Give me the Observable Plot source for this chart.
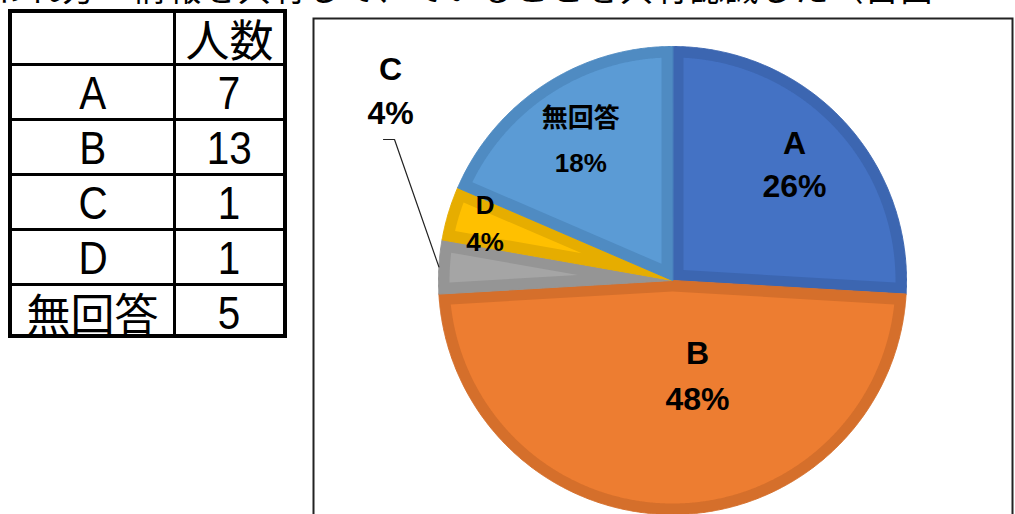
<!DOCTYPE html>
<html>
<head>
<meta charset="utf-8">
<script src="https://cdn.jsdelivr.net/npm/d3@7"></script>
<script src="https://cdn.jsdelivr.net/npm/@observablehq/plot@0.6"></script>
<style>
html, body { margin: 0; padding: 0; background: #fff; width: 1015px; height: 514px; overflow: hidden; }
#page { position: relative; width: 1015px; height: 514px; overflow: hidden; background: #fff; }
#topline { position: absolute; left: -6px; top: -33px; font-family: "Noto Sans CJK JP", sans-serif; font-size: 34px; line-height: 1.2; white-space: nowrap; color: #000; letter-spacing: 1px; }
#tbl { position: absolute; left: 0; top: 0; }
#tbl .cell { position: absolute; display: flex; align-items: center; justify-content: center; font-family: "Liberation Sans", sans-serif; font-size: 47px; color: #000; line-height: 1; }
#tbl .cell span { display: inline-block; transform: scaleX(0.86); }
#tbl .cell.cjk { font-family: "Noto Sans CJK JP", sans-serif; font-size: 44px; }
#tbl .cell.cjk span { transform: none; }
#tbl .ln { position: absolute; background: #000; }
#chart { position: absolute; left: 312px; top: 17px; }
</style>
</head>
<body>
<div id="page">
  <div id="topline">われ方ー情報を共有して、ていることを共有認識した（自由</div>
  <div id="tbl"></div>
  <div id="chart"></div>
</div>
<script>
// ---- data ----
const categories = ["A", "B", "C", "D", "無回答"];
const counts = [7, 13, 1, 1, 5];
const pctLabels = ["26%", "48%", "4%", "4%", "18%"];
const tableHeader = ["", "人数"];

// ---- styles ----
const innerFills = ["#4472C4", "#ED7D31", "#A5A5A5", "#FFC000", "#5B9BD5"];
const borderFills = ["#3C66B1", "#D56F2B", "#959595", "#E6AD00", "#4F8BC2"];

// ---- table (HTML) ----
(function () {
  const t = d3.select("#tbl");
  const left = 8, right = 287, top = 9, colX = 173;
  const headerBottom = 63, rowH = 55;
  const bottom = headerBottom + rowH * categories.length;
  t.append("div").attr("class", "ln").style("left", left + "px").style("top", top + "px").style("width", (right - left) + "px").style("height", "4px");
  t.append("div").attr("class", "ln").style("left", left + "px").style("top", (bottom - 4) + "px").style("width", (right - left) + "px").style("height", "4px");
  t.append("div").attr("class", "ln").style("left", left + "px").style("top", top + "px").style("width", "4px").style("height", (bottom - top) + "px");
  t.append("div").attr("class", "ln").style("left", (right - 4) + "px").style("top", top + "px").style("width", "4px").style("height", (bottom - top) + "px");
  t.append("div").attr("class", "ln").style("left", colX + "px").style("top", top + "px").style("width", "3px").style("height", (bottom - top) + "px");
  for (let i = 0; i < categories.length; i++) {
    const y = headerBottom + rowH * i;
    t.append("div").attr("class", "ln").style("left", left + "px").style("top", y + "px").style("width", (right - left) + "px").style("height", "3px");
  }
  const isCJK = s => /[\u3000-\u9fff]/.test(s);
  const cell = (x0, x1, y0, y1, txt) => t.append("div").attr("class", isCJK(txt) ? "cell cjk" : "cell")
    .style("left", x0 + "px").style("top", y0 + "px").style("width", (x1 - x0) + "px").style("height", (y1 - y0) + "px")
    .append("span").text(txt);
  cell(left + 4, colX, top + 4, headerBottom, tableHeader[0]);
  cell(colX + 3, right - 4, top + 4, headerBottom, tableHeader[1]);
  categories.forEach((c, i) => {
    const y0 = headerBottom + rowH * i + 3, y1 = headerBottom + rowH * (i + 1);
    cell(left + 4, colX, y0, y1, c);
    cell(colX + 3, right - 4, y0, y1, String(counts[i]));
  });
})();

// ---- pie chart (Plot) ----
const W = 701, H = 520;
const R = 234;
const border = 11;
const cxPx = 360, cyPx = 263;

const arcs = d3.pie().sort(null).value(d => d)(counts);
const pt = (a, r) => ({x: r * Math.sin(a), y: r * Math.cos(a)});

function outerPoly(s) {
  const pts = [{x: 0, y: 0}];
  const n = Math.max(8, Math.ceil((s.endAngle - s.startAngle) / 0.005));
  for (let k = 0; k <= n; k++) pts.push(pt(s.startAngle + (s.endAngle - s.startAngle) * k / n, R));
  return pts;
}
function innerPoly(s) {
  const half = (s.endAngle - s.startAngle) / 2;
  const mid = s.startAngle + half;
  const rr = R - border;
  const del = Math.asin(border / rr);
  const pts = [pt(mid, border / Math.sin(half))];
  const a0 = s.startAngle + del, a1 = s.endAngle - del;
  const n = Math.max(8, Math.ceil((a1 - a0) / 0.005));
  for (let k = 0; k <= n; k++) pts.push(pt(a0 + (a1 - a0) * k / n, rr));
  return pts;
}

const labelLayout = {
  "A": {r: 0.717, sep: 43, size: 32},
  "B": {r: 0.41, dx: 25, sep: 46, size: 32},
  "C": {at: [-282, 188.5], sep: 44, size: 32, leader: true},
  "D": {r: 0.836, sep: 37.5, size: 26},
  "無回答": {r: 0.713, sep: 44.5, size: 26}
};

const labelRows = [];
const leaderPts = [];
arcs.forEach((s, i) => {
  const key = categories[i];
  const L = labelLayout[key];
  const mid = (s.startAngle + s.endAngle) / 2;
  let c;
  if (L.at) c = {x: L.at[0], y: L.at[1]};
  else { c = pt(mid, L.r * R); c.x += (L.dx || 0); }
  labelRows.push({x: c.x, y: c.y + L.sep / 2, text: key, size: L.size});
  labelRows.push({x: c.x, y: c.y - L.sep / 2, text: pctLabels[i], size: L.size});
  if (L.leader) {
    const e = pt(mid, R);
    leaderPts.push(e, {x: c.x + 4, y: c.y - 47.5}, {x: c.x - 7, y: c.y - 47.5});
  }
});

const marks = [];
arcs.forEach((s, i) => {
  marks.push(Plot.line(outerPoly(s), {x: "x", y: "y", curve: "linear-closed", fill: borderFills[i], stroke: borderFills[i], strokeWidth: 1}));
});
arcs.forEach((s, i) => {
  marks.push(Plot.line(innerPoly(s), {x: "x", y: "y", curve: "linear-closed", fill: innerFills[i], stroke: "none"}));
});
marks.push(Plot.line(leaderPts, {x: "x", y: "y", stroke: "#222", strokeWidth: 1.2, curve: "linear"}));
for (const sz of [...new Set(labelRows.map(d => d.size))]) {
  marks.push(Plot.text(labelRows.filter(d => d.size === sz), {
    x: "x", y: "y", text: "text", fontSize: sz, fontWeight: "bold",
    fontFamily: "'Liberation Sans', 'Noto Sans CJK JP', sans-serif",
    fill: "#000", textAnchor: "middle", lineAnchor: "middle"
  }));
}
marks.push(Plot.frame({stroke: "#222", strokeWidth: 2, inset: 1}));

const chart = Plot.plot({
  width: W, height: H,
  margin: 0,
  x: {type: "linear", domain: [-cxPx, W - cxPx], range: [0, W], axis: null},
  y: {type: "linear", domain: [-(H - cyPx), cyPx], range: [H, 0], axis: null},
  style: {background: "transparent", overflow: "visible"},
  marks
});
document.getElementById("chart").appendChild(chart);
</script>
</body>
</html>
